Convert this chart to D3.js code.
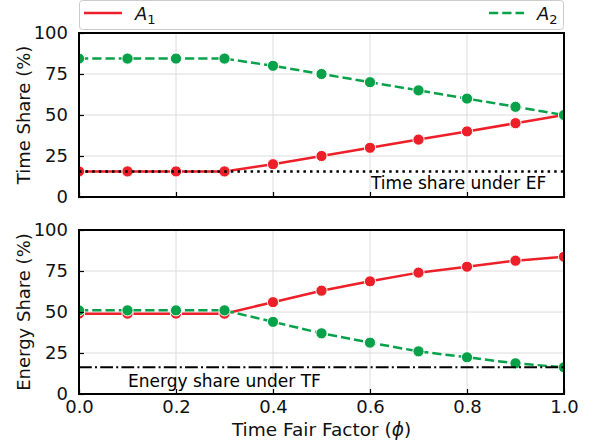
<!DOCTYPE html>
<html>
<head>
<meta charset="utf-8">
<script src="https://cdn.jsdelivr.net/npm/d3@7"></script>
<style>
  html, body { margin: 0; padding: 0; background: #fff; }
  svg { display: block; font-family: "DejaVu Sans", sans-serif; }
</style>
</head>
<body>
<svg id="chart" width="594" height="444"></svg>
<script>
// Time fair factor values on the x axis
const phi = [0.0, 0.1, 0.2, 0.3, 0.4, 0.5, 0.6, 0.7, 0.8, 0.9, 1.0];

// Time share (%) per agent
const timeA1 = [15.6, 15.6, 15.6, 15.6, 20, 25, 30, 35, 40, 45, 50];
const timeA2 = [84.4, 84.4, 84.4, 84.4, 80, 75, 70, 65, 60, 55, 50];
const timeShareEF = 15.6;

// Energy share (%) per agent
const energyA1 = [49, 49, 49, 49, 56, 63, 68.7, 74, 77.6, 81.3, 83.7];
const energyA2 = [51, 51, 51, 51, 44, 37, 31.3, 26, 22.4, 18.7, 16.3];
const energyShareTF = 16.3;

const xTicks = [0.0, 0.2, 0.4, 0.6, 0.8, 1.0];
const yTicks = [0, 25, 50, 75, 100];

const RED = "#ed1f29";
const GREEN = "#07a14a";

const svg = d3.select("#chart");
const left = 79, right = 564;
const panels = [
  { top: 33, bottom: 197, a1: timeA1, a2: timeA2, ylabel: "Time Share (%)", showX: false,
    ref: timeShareEF, refDash: "2.5,4.1", refWidth: 2.5,
    note: "Time share under EF", noteX: 371, noteY: 189 },
  { top: 230, bottom: 394, a1: energyA1, a2: energyA2, ylabel: "Energy Share (%)", showX: true,
    ref: energyShareTF, refDash: "12.8,3.2,2,3.2", refWidth: 2.2,
    note: "Energy share under TF", noteX: 128, noteY: 387 }
];

const x = d3.scaleLinear().domain([0, 1]).range([left, right]);

panels.forEach((p, i) => {
  const y = d3.scaleLinear().domain([0, 100]).range([p.bottom, p.top]);
  const g = svg.append("g");

  const clipId = "clip" + i;
  svg.append("clipPath").attr("id", clipId)
    .append("rect").attr("x", left).attr("y", p.top)
    .attr("width", right - left).attr("height", p.bottom - p.top);

  // grid
  g.append("g").selectAll("line").data(xTicks).join("line")
    .attr("x1", d => x(d)).attr("x2", d => x(d))
    .attr("y1", p.top).attr("y2", p.bottom)
    .attr("stroke", "#dcdcdc").attr("stroke-width", 1);
  g.append("g").selectAll("line").data(yTicks).join("line")
    .attr("x1", left).attr("x2", right)
    .attr("y1", d => y(d)).attr("y2", d => y(d))
    .attr("stroke", "#dcdcdc").attr("stroke-width", 1);

  const plot = g.append("g").attr("clip-path", `url(#${clipId})`);
  const line = d3.line().x((d, j) => x(phi[j])).y(d => y(d));

  const series = [
    { vals: p.a1, color: RED, dash: null },
    { vals: p.a2, color: GREEN, dash: "9.25,4" }
  ];
  series.forEach(s => {
    plot.append("path").datum(s.vals)
      .attr("d", line).attr("fill", "none")
      .attr("stroke", s.color).attr("stroke-width", 2.5)
      .attr("stroke-dasharray", s.dash);
    plot.append("g").selectAll("circle").data(s.vals).join("circle")
      .attr("cx", (d, j) => x(phi[j])).attr("cy", d => y(d))
      .attr("r", 5.6).attr("fill", s.color)
      .attr("stroke", "#fff").attr("stroke-width", 1);
  });

  // reference level
  plot.append("line")
    .attr("x1", left).attr("x2", right)
    .attr("y1", y(p.ref)).attr("y2", y(p.ref))
    .attr("stroke", "#000").attr("stroke-width", p.refWidth)
    .attr("stroke-dasharray", p.refDash);

  g.append("text")
    .attr("x", p.noteX).attr("y", p.noteY)
    .attr("font-size", 17).attr("fill", "#000")
    .text(p.note);

  // axes with inward ticks
  const yAxis = d3.axisLeft(y).tickValues(yTicks).tickSizeInner(-5).tickSizeOuter(0).tickPadding(11);
  const ya = g.append("g").attr("transform", `translate(${left},0)`).call(yAxis);
  ya.select(".domain").remove();
  ya.selectAll("text").attr("font-size", 18).attr("font-family", "DejaVu Sans").attr("fill", "#111");
  ya.selectAll("line").attr("stroke", "#000").attr("stroke-width", 1.2);

  const xAxis = d3.axisBottom(x).tickValues(xTicks).tickSizeInner(-5).tickSizeOuter(0)
    .tickPadding(6).tickFormat(p.showX ? d3.format(".1f") : "");
  const xa = g.append("g").attr("transform", `translate(0,${p.bottom})`).call(xAxis);
  xa.select(".domain").remove();
  xa.selectAll("text").attr("font-size", 18).attr("font-family", "DejaVu Sans").attr("fill", "#111");
  xa.selectAll("line").attr("stroke", "#000").attr("stroke-width", 1.2);

  // frame
  g.append("rect").attr("x", left).attr("y", p.top)
    .attr("width", right - left).attr("height", p.bottom - p.top)
    .attr("fill", "none").attr("stroke", "#000").attr("stroke-width", 2);

  g.append("text")
    .attr("transform", `translate(30,${(p.top + p.bottom) / 2}) rotate(-90)`)
    .attr("text-anchor", "middle").attr("font-size", 18).attr("fill", "#111")
    .text(p.ylabel);

  if (p.showX) {
    const lab = g.append("text")
      .attr("x", (left + right) / 2).attr("y", 436)
      .attr("text-anchor", "middle").attr("font-size", 18.5).attr("fill", "#111");
    lab.append("tspan").text("Time Fair Factor (");
    lab.append("tspan").attr("font-style", "italic").text("ϕ");
    lab.append("tspan").text(")");
  }
});

// legend spanning the top axes
const legend = svg.append("g");
legend.append("rect")
  .attr("x", left + 0.5).attr("y", 0.5).attr("width", right - left - 1).attr("height", 29)
  .attr("rx", 3).attr("fill", "#fff").attr("fill-opacity", 0.8)
  .attr("stroke", "#cccccc").attr("stroke-width", 1);

const legendItems = [
  { name: "A", sub: "1", color: RED, dash: null, x0: 84, x1: 122, tx: 135 },
  { name: "A", sub: "2", color: GREEN, dash: "9.25,4", x0: 489, x1: 524, tx: 537 }
];
legendItems.forEach(it => {
  legend.append("line").attr("x1", it.x0).attr("x2", it.x1).attr("y1", 13).attr("y2", 13)
    .attr("stroke", it.color).attr("stroke-width", 2.5).attr("stroke-dasharray", it.dash);
  const t = legend.append("text").attr("x", it.tx).attr("y", 20).attr("font-size", 18).attr("fill", "#111");
  t.append("tspan").attr("font-style", "italic").text(it.name);
  t.append("tspan").attr("font-size", 13).attr("dy", 4).text(it.sub);
});
</script>
</body>
</html>
